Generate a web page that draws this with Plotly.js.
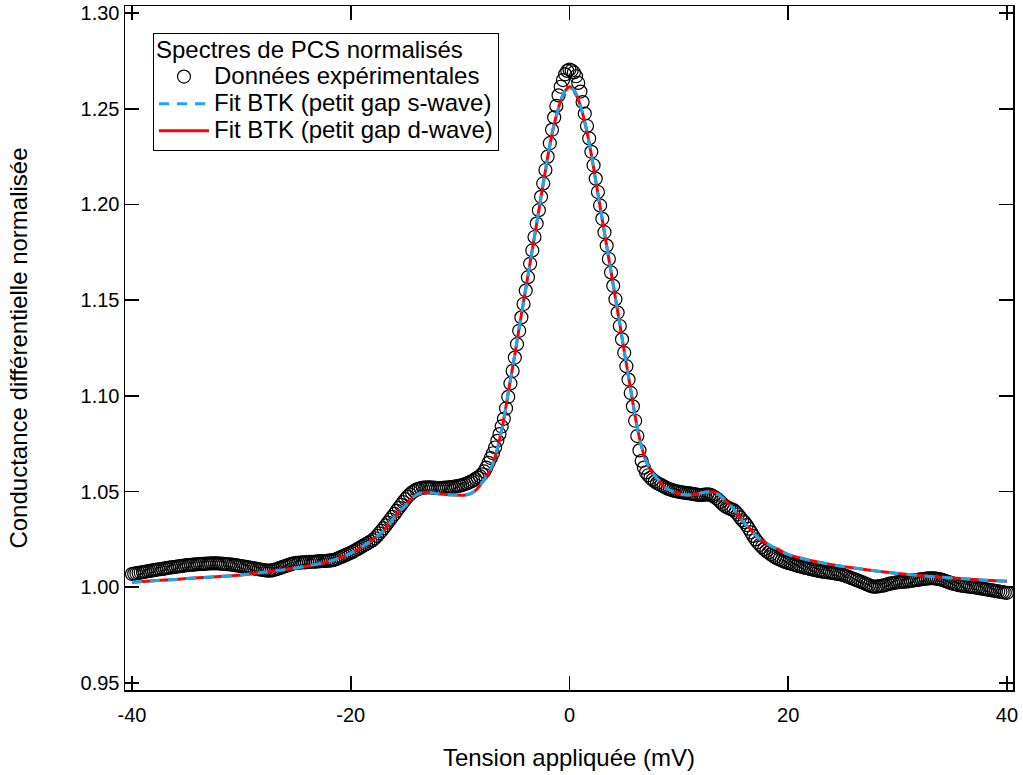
<!DOCTYPE html>
<html>
<head>
<meta charset="utf-8">
<script src="https://cdn.plot.ly/plotly-3.0.1.min.js"></script>
<style>html,body{margin:0;padding:0;background:#fff;}#chart{width:1023px;height:775px;}</style>
</head>
<body>
<div id="chart"></div>
<script>
// Experimental data: bias voltage (mV)
const expX = [
-40.0,-39.8,-39.6,-39.4,-39.2, -39.0,-38.8,-38.6,-38.4,-38.2, -38.0,-37.8,-37.6,-37.4,-37.2, -37.0,-36.8,-36.6,-36.4,-36.2,
-36.0,-35.8,-35.6,-35.4,-35.2, -35.0,-34.8,-34.6,-34.4,-34.2, -34.0,-33.8,-33.6,-33.4,-33.2, -33.0,-32.8,-32.6,-32.4,-32.2,
-32.0,-31.8,-31.6,-31.4,-31.2, -31.0,-30.8,-30.6,-30.4,-30.2, -30.0,-29.8,-29.6,-29.4,-29.2, -29.0,-28.8,-28.6,-28.4,-28.2,
-28.0,-27.8,-27.6,-27.4,-27.2, -27.0,-26.8,-26.6,-26.4,-26.2, -26.0,-25.8,-25.6,-25.4,-25.2, -25.0,-24.8,-24.6,-24.4,-24.2,
-24.0,-23.8,-23.6,-23.4,-23.2, -23.0,-22.8,-22.6,-22.4,-22.2, -22.0,-21.8,-21.6,-21.4,-21.2, -21.0,-20.8,-20.6,-20.4,-20.2,
-20.0,-19.8,-19.6,-19.4,-19.2, -19.0,-18.8,-18.6,-18.4,-18.2, -18.0,-17.8,-17.6,-17.4,-17.2, -17.0,-16.8,-16.6,-16.4,-16.2,
-16.0,-15.8,-15.6,-15.4,-15.2, -15.0,-14.8,-14.6,-14.4,-14.2, -14.0,-13.8,-13.6,-13.4,-13.2, -13.0,-12.8,-12.6,-12.4,-12.2,
-12.0,-11.8,-11.6,-11.4,-11.2, -11.0,-10.8,-10.6,-10.4,-10.2, -10.0,-9.8,-9.6,-9.4,-9.2, -9.0,-8.8,-8.6,-8.4,-8.2,
-8.0,-7.8,-7.6,-7.4,-7.2, -7.0,-6.8,-6.6,-6.4,-6.2, -6.0,-5.8,-5.6,-5.4,-5.2, -5.0,-4.8,-4.6,-4.4,-4.2,
-4.0,-3.8,-3.6,-3.4,-3.2, -3.0,-2.8,-2.6,-2.4,-2.2, -2.0,-1.8,-1.6,-1.4,-1.2, -1.0,-0.8,-0.6,-0.4,-0.2,
0.0,0.2,0.4,0.6,0.8, 1.0,1.2,1.4,1.6,1.8, 2.0,2.2,2.4,2.6,2.8, 3.0,3.2,3.4,3.6,3.8,
4.0,4.2,4.4,4.6,4.8, 5.0,5.2,5.4,5.6,5.8, 6.0,6.2,6.4,6.6,6.8, 7.0,7.2,7.4,7.6,7.8,
8.0,8.2,8.4,8.6,8.8, 9.0,9.2,9.4,9.6,9.8, 10.0,10.2,10.4,10.6,10.8, 11.0,11.2,11.4,11.6,11.8,
12.0,12.2,12.4,12.6,12.8, 13.0,13.2,13.4,13.6,13.8, 14.0,14.2,14.4,14.6,14.8, 15.0,15.2,15.4,15.6,15.8,
16.0,16.2,16.4,16.6,16.8, 17.0,17.2,17.4,17.6,17.8, 18.0,18.2,18.4,18.6,18.8, 19.0,19.2,19.4,19.6,19.8,
20.0,20.2,20.4,20.6,20.8, 21.0,21.2,21.4,21.6,21.8, 22.0,22.2,22.4,22.6,22.8, 23.0,23.2,23.4,23.6,23.8,
24.0,24.2,24.4,24.6,24.8, 25.0,25.2,25.4,25.6,25.8, 26.0,26.2,26.4,26.6,26.8, 27.0,27.2,27.4,27.6,27.8,
28.0,28.2,28.4,28.6,28.8, 29.0,29.2,29.4,29.6,29.8, 30.0,30.2,30.4,30.6,30.8, 31.0,31.2,31.4,31.6,31.8,
32.0,32.2,32.4,32.6,32.8, 33.0,33.2,33.4,33.6,33.8, 34.0,34.2,34.4,34.6,34.8, 35.0,35.2,35.4,35.6,35.8,
36.0,36.2,36.4,36.6,36.8, 37.0,37.2,37.4,37.6,37.8, 38.0,38.2,38.4,38.6,38.8, 39.0,39.2,39.4,39.6,39.8,
40.0
];
// Experimental normalised differential conductance
const expY = [
1.0069,1.0071,1.0073,1.0075,1.0077, 1.0079,1.0081,1.0083,1.0085,1.0087, 1.0089,1.0091,1.0093,1.0094,1.0096, 1.0098,1.0100,1.0102,1.0104,1.0105,
1.0107,1.0109,1.0110,1.0112,1.0113, 1.0115,1.0116,1.0117,1.0118,1.0119, 1.0120,1.0121,1.0122,1.0122,1.0123, 1.0124,1.0125,1.0125,1.0125,1.0125,
1.0124,1.0123,1.0122,1.0121,1.0120, 1.0119,1.0117,1.0115,1.0114,1.0112, 1.0110,1.0108,1.0106,1.0104,1.0102, 1.0100,1.0098,1.0096,1.0094,1.0092,
1.0090,1.0088,1.0087,1.0087,1.0088, 1.0091,1.0094,1.0098,1.0102,1.0106, 1.0110,1.0114,1.0118,1.0122,1.0125, 1.0127,1.0128,1.0129,1.0130,1.0130,
1.0131,1.0132,1.0133,1.0133,1.0134, 1.0135,1.0136,1.0137,1.0137,1.0138, 1.0139,1.0140,1.0142,1.0145,1.0150, 1.0155,1.0160,1.0165,1.0170,1.0175,
1.0180,1.0186,1.0192,1.0199,1.0205, 1.0212,1.0219,1.0225,1.0232,1.0239, 1.0246,1.0256,1.0268,1.0281,1.0294, 1.0308,1.0323,1.0338,1.0353,1.0368,
1.0383,1.0399,1.0415,1.0430,1.0445, 1.0460,1.0473,1.0485,1.0495,1.0503, 1.0510,1.0514,1.0518,1.0520,1.0521, 1.0522,1.0522,1.0521,1.0520,1.0519,
1.0518,1.0518,1.0519,1.0520,1.0521, 1.0522,1.0523,1.0525,1.0527,1.0529, 1.0531,1.0534,1.0538,1.0542,1.0547, 1.0552,1.0558,1.0565,1.0573,1.0581,
1.0590,1.0605,1.0625,1.0650,1.0675, 1.0700,1.0730,1.0765,1.0800,1.0840, 1.0880,1.0935,1.0995,1.1065,1.1130, 1.1200,1.1270,1.1340,1.1410,1.1480,
1.1550,1.1620,1.1690,1.1760,1.1830, 1.1900,1.1970,1.2040,1.2110,1.2180, 1.2250,1.2320,1.2390,1.2455,1.2515, 1.2570,1.2615,1.2650,1.2680,1.2698,
1.2705,1.2700,1.2690,1.2670,1.2635, 1.2590,1.2535,1.2475,1.2410,1.2345, 1.2275,1.2205,1.2135,1.2065,1.1995, 1.1925,1.1855,1.1785,1.1715,1.1645,
1.1575,1.1505,1.1435,1.1365,1.1295, 1.1225,1.1155,1.1085,1.1015,1.0945, 1.0870,1.0790,1.0715,1.0660,1.0625, 1.0600,1.0585,1.0572,1.0562,1.0552,
1.0545,1.0539,1.0533,1.0527,1.0521, 1.0515,1.0511,1.0507,1.0503,1.0501, 1.0499,1.0497,1.0495,1.0493,1.0492, 1.0490,1.0488,1.0486,1.0484,1.0483,
1.0482,1.0483,1.0484,1.0485,1.0484, 1.0480,1.0474,1.0466,1.0457,1.0446, 1.0435,1.0425,1.0418,1.0412,1.0407, 1.0403,1.0393,1.0380,1.0365,1.0350,
1.0340,1.0324,1.0306,1.0287,1.0268, 1.0250,1.0235,1.0222,1.0210,1.0199, 1.0190,1.0181,1.0172,1.0164,1.0157, 1.0150,1.0145,1.0140,1.0135,1.0131,
1.0127,1.0124,1.0120,1.0117,1.0113, 1.0110,1.0107,1.0104,1.0101,1.0099, 1.0096,1.0093,1.0090,1.0088,1.0085, 1.0083,1.0081,1.0080,1.0078,1.0077,
1.0075,1.0073,1.0071,1.0069,1.0067, 1.0065,1.0061,1.0056,1.0052,1.0047, 1.0043,1.0038,1.0034,1.0029,1.0025, 1.0020,1.0015,1.0010,1.0005,1.0003,
1.0003,1.0004,1.0006,1.0008,1.0010, 1.0014,1.0017,1.0020,1.0022,1.0024, 1.0026,1.0027,1.0028,1.0029,1.0030, 1.0031,1.0033,1.0035,1.0037,1.0038,
1.0040,1.0042,1.0043,1.0045,1.0046, 1.0047,1.0047,1.0046,1.0044,1.0042, 1.0040,1.0036,1.0032,1.0028,1.0024, 1.0020,1.0017,1.0014,1.0011,1.0009,
1.0007,1.0006,1.0004,1.0003,1.0001, 1.0000,0.9998,0.9996,0.9994,0.9992, 0.9990,0.9988,0.9986,0.9984,0.9982, 0.9980,0.9978,0.9976,0.9974,0.9972,
0.9971
];
// BTK fits
const fitX = [-40,-38,-36,-34,-32,-30,-28,-26,-24,-22,-21,-20,-19,-18,-17,-16,-15.5,-15,-14.5,-14,-13.5,-13,-12.5,-12,-11,-10,-9.5,-9,-8.5,-8,-7.5,-7,-6.5,-6,-5.5,-5,-4.5,-4,-3.5,-3,-2.5,-2,-1.5,-1,-0.5,0,0.5,1,1.5,2,2.5,3,3.5,4,4.5,5,5.5,6,6.5,7,7.5,8,8.5,9,10,10.7,11.5,12.2,12.8,13.3,13.7,14.3,15,15.6,16,16.5,17,17.5,18,18.5,19,20,22,24,26,28,30,32,34,36,38,40];
const fitDwave = [1.0026,1.0034,1.0041,1.0049,1.0056,1.0064,1.0078,1.0092,1.0110,1.0135,1.0153,1.0178,1.0210,1.0248,1.0295,1.0365,1.0400,1.0425,1.0460,1.0482,1.0492,1.0495,1.0493,1.0488,1.0483,1.0481,1.0482,1.0490,1.0510,1.0545,1.0585,1.0645,1.0745,1.0880,1.1050,1.1215,1.1390,1.1560,1.1730,1.1900,1.2075,1.2245,1.2395,1.2505,1.2585,1.2615,1.2590,1.2515,1.2405,1.2260,1.2090,1.1920,1.1750,1.1580,1.1410,1.1235,1.1065,1.0895,1.0755,1.0660,1.0605,1.0570,1.0535,1.0512,1.0488,1.0482,1.0485,1.0495,1.0499,1.0495,1.0482,1.0450,1.0410,1.0362,1.0335,1.0305,1.0272,1.0248,1.0230,1.0213,1.0200,1.0170,1.0140,1.0118,1.0100,1.0085,1.0072,1.0061,1.0052,1.0044,1.0037,1.0031];
const fitSwave = [1.0026,1.0034,1.0041,1.0049,1.0056,1.0064,1.0078,1.0092,1.0110,1.0135,1.0153,1.0178,1.0210,1.0248,1.0295,1.0365,1.0400,1.0425,1.0460,1.0482,1.0492,1.0495,1.0493,1.0488,1.0483,1.0481,1.0482,1.0490,1.0510,1.0545,1.0585,1.0645,1.0745,1.0880,1.1050,1.1215,1.1390,1.1560,1.1730,1.1900,1.2075,1.2245,1.2395,1.2505,1.2585,1.2615,1.2590,1.2515,1.2405,1.2260,1.2090,1.1920,1.1750,1.1580,1.1410,1.1235,1.1065,1.0895,1.0755,1.0660,1.0605,1.0570,1.0535,1.0512,1.0488,1.0482,1.0485,1.0495,1.0499,1.0495,1.0482,1.0450,1.0410,1.0362,1.0335,1.0305,1.0272,1.0248,1.0230,1.0213,1.0200,1.0170,1.0140,1.0118,1.0100,1.0085,1.0072,1.0061,1.0052,1.0044,1.0037,1.0031];

const xTickVals = [-40, -20, 0, 20, 40];
const xTickText = ['-40', '-20', '0', '20', '40'];

const FONT = 'Liberation Sans, Arial, sans-serif';
const big = s => '<span style="font-size:24px">' + s + '</span>';

const traces = [
  {
    x: expX, y: expY, type: 'scatter', mode: 'markers',
    name: big('Données expérimentales'), legendrank: 1,
    marker: {symbol: 'circle-open', size: 13, color: '#000', line: {width: 1.2, color: '#000'}}
  },
  {
    x: fitX, y: fitDwave, type: 'scatter', mode: 'lines',
    name: big('Fit BTK (petit gap d-wave)'), legendrank: 3,
    line: {color: 'rgb(255,0,0)', width: 3, shape: 'spline', smoothing: 0.6}
  },
  {
    x: fitX, y: fitSwave, type: 'scatter', mode: 'lines',
    name: big('Fit BTK (petit gap s-wave)'), legendrank: 2,
    line: {color: 'rgb(20,170,240)', width: 3, dash: '10px,8px', shape: 'spline', smoothing: 0.6}
  }
];

const axisCommon = {
  showline: true, linecolor: '#000', linewidth: 1.5, mirror: 'ticks',
  ticks: 'inside', ticklen: 14, tickwidth: 1.5, tickcolor: '#000',
  showgrid: false, zeroline: false,
  tickfont: {family: FONT, size: 20, color: '#000'}
};

const layout = {
  width: 1023, height: 775,
  paper_bgcolor: '#fff', plot_bgcolor: '#fff',
  margin: {l: 125, r: 10, t: 6, b: 85},
  font: {family: FONT, size: 20, color: '#000'},
  showlegend: true,
  legend: {
    x: 0.0315, y: 0.9605, xanchor: 'left', yanchor: 'top',
    bordercolor: '#000', borderwidth: 1, bgcolor: '#fff',
    font: {family: FONT, size: 18.5, color: '#000'},
    title: {text: big('Spectres de PCS normalisés'), font: {family: FONT, size: 18.5, color: '#000'}},
    tracegroupgap: 0, itemwidth: 50
  },
  xaxis: Object.assign({}, axisCommon, {
    range: [-40.64, 40.55],
    tickmode: 'array', tickvals: xTickVals, ticktext: xTickText,
    ticklabelstandoff: 6,
    title: {text: 'Tension appliquée (mV)', font: {family: FONT, size: 24, color: '#000'}, standoff: 24}
  }),
  yaxis: Object.assign({}, axisCommon, {
    range: [0.9463, 1.3037],
    tickmode: 'linear', tick0: 0.95, dtick: 0.05, tickformat: '.2f',
    title: {text: 'Conductance différentielle normalisée', font: {family: FONT, size: 24, color: '#000'}, standoff: 46}
  })
};

Plotly.newPlot('chart', traces, layout, {displayModeBar: false, staticPlot: true});
</script>
</body>
</html>
